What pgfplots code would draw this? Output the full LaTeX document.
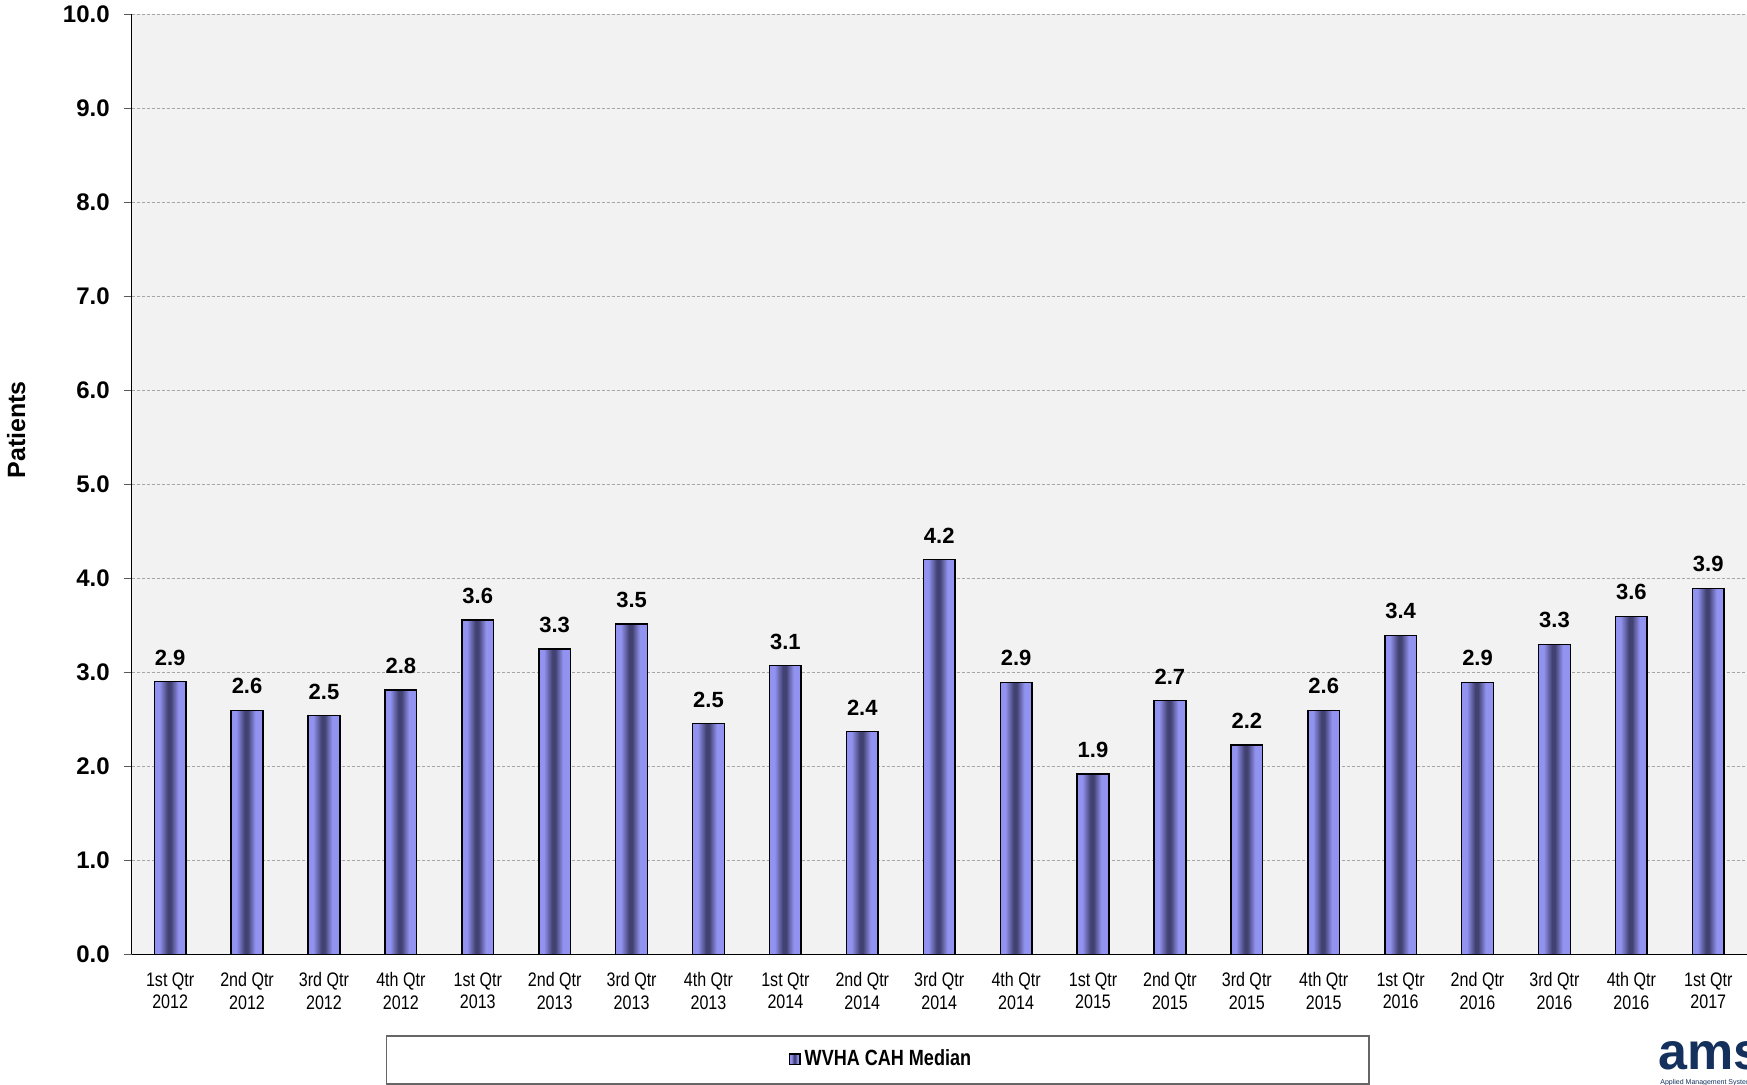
\documentclass[border=0pt]{standalone}
\usepackage{fontspec}
\setmainfont{Liberation Sans}
\newfontfamily\narrowfont[FakeStretch=0.82]{Liberation Sans}
\usepackage{pgfplots}
\pgfplotsset{compat=1.18}
\usepackage{pgfplotstable}
\definecolor{barlight}{RGB}{146,146,240}
\definecolor{bardark}{RGB}{66,66,114}
\definecolor{navy}{RGB}{20,48,92}
\pgfdeclarehorizontalshading{barshade}{100bp}{color(0bp)=(barlight); color(33bp)=(barlight); color(46bp)=(bardark); color(51bp)=(bardark); color(63bp)=(barlight); color(100bp)=(barlight)}
\pgfplotstableread{
x y lab
0 2.900 2.9
1 2.596 2.6
2 2.538 2.5
3 2.809 2.8
4 3.556 3.6
5 3.248 3.3
6 3.514 3.5
7 2.453 2.5
8 3.070 3.1
9 2.368 2.4
10 4.198 4.2
11 2.894 2.9
12 1.918 1.9
13 2.698 2.7
14 2.227 2.2
15 2.596 2.6
16 3.394 3.4
17 2.894 2.9
18 3.298 3.3
19 3.596 3.6
20 3.894 3.9
}\datatable
\begin{document}
\begin{tikzpicture}
\useasboundingbox (0pt,0pt) rectangle (873.5pt,542.5pt);
\begin{axis}[
  at={(65.85pt,65.35pt)}, anchor=south west,
  scale only axis, width=807.5pt, height=470pt,
  xmin=-0.5, xmax=20.5, ymin=0, ymax=10,
  axis x line*=bottom, axis y line*=left,
  axis line style={black, line width=0.7pt, -},
  axis background/.style={fill=black!5},
  ytick={0,1,...,10},
  yticklabel style={font=\bfseries\fontsize{12}{14}\selectfont, xshift=-3.5pt,
    /pgf/number format/.cd, fixed, fixed zerofill, precision=1, assume math mode=true},
  ytick style={gray!70!black, line width=0.6pt},
  tick align=outside, major tick length=4pt,
  ymajorgrids, major grid style={dash pattern=on 1.5pt off 1pt, gray!70, line width=0.4pt},
  xtick={0,...,20},
  xtick style={draw=none},
  minor xtick={-0.5,0.5,...,20.5},
  minor tick length=3pt,
  minor x tick style={gray!70!black, line width=0.6pt},
  xticklabels={{1st Qtr\\2012},{2nd Qtr\\2012},{3rd Qtr\\2012},{4th Qtr\\2012},
    {1st Qtr\\2013},{2nd Qtr\\2013},{3rd Qtr\\2013},{4th Qtr\\2013},
    {1st Qtr\\2014},{2nd Qtr\\2014},{3rd Qtr\\2014},{4th Qtr\\2014},
    {1st Qtr\\2015},{2nd Qtr\\2015},{3rd Qtr\\2015},{4th Qtr\\2015},
    {1st Qtr\\2016},{2nd Qtr\\2016},{3rd Qtr\\2016},{4th Qtr\\2016},
    {1st Qtr\\2017}},
  xticklabel style={align=center, font=\narrowfont\fontsize{9.8}{11.3}\selectfont, yshift=-1.5pt},
  ylabel={Patients},
  every axis y label/.style={at={(axis description cs:-0.0716,0.558)}, rotate=90, anchor=center,
    font=\bfseries\fontsize{12.5}{14}\selectfont},
  legend style={draw=none, fill=none, at={(axis description cs:0.4646,-0.1114)}, anchor=center,
    font=\narrowfont\bfseries\fontsize{11}{12}\selectfont, inner sep=1pt},
  legend image code/.code={\draw[#1, line width=0.7pt] (0pt,-2.6pt) rectangle (5.2pt,2.6pt);},
  barstyle/.style={ybar, bar width=15.85pt, draw=black, line width=0.75pt, shading=barshade,
    point meta=explicit symbolic, nodes near coords,
    every node near coord/.append style={font=\bfseries\fontsize{11}{13}\selectfont, yshift=4.5pt, black}},
]
\addlegendimage{draw=black, shading=barshade}
\addlegendentry{WVHA CAH Median}
\pgfplotsinvokeforeach{0,...,20}{
  \addplot[barstyle, forget plot, restrict x to domain=#1:#1]
    table[x=x, y=y, meta=lab] {\datatable};
}
\end{axis}
\draw[gray!80!black, line width=0.6pt] (193.35pt,24.5pt) rectangle (684.5pt,0.5pt);
\node[anchor=base west, inner sep=0pt, text=navy, font=\bfseries\fontsize{26}{26}\selectfont] at (829pt,7.6pt) {ams};
\node[anchor=north west, inner sep=0pt, text=navy, font=\fontsize{3.5}{4}\selectfont] at (830pt,3pt) {Applied Management Systems};
\end{tikzpicture}
\end{document}
